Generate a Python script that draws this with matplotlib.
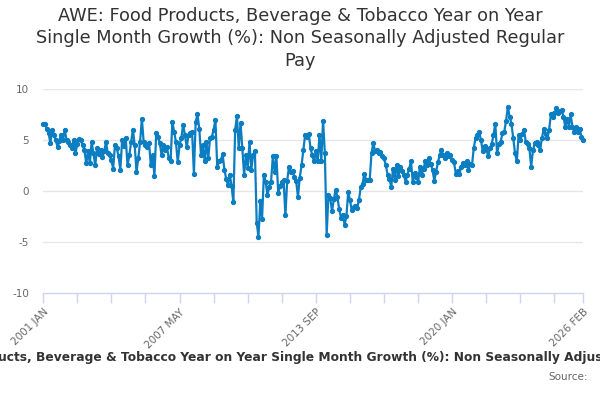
import matplotlib
matplotlib.use('Agg')
import matplotlib.pyplot as plt

# monthly values, 2001 JAN .. 2026 FEB
growth = [
    6.6, 6.6, 6.1, 5.7, 4.7, 6.0, 5.5, 5.0, 4.3, 4.9, 5.5, 5.0,      # 2001
    6.0, 5.0, 4.8, 4.5, 4.2, 5.0, 3.7, 4.6, 5.1, 5.0, 4.5, 4.0,      # 2002
    2.7, 3.9, 2.7, 4.8, 3.7, 2.5, 4.2, 3.6, 4.0, 3.3, 3.9, 4.8,      # 2003
    3.7, 3.5, 3.0, 2.2, 4.5, 4.2, 3.4, 2.1, 5.0, 4.4, 5.2, 2.5,      # 2004
    3.5, 4.8, 6.0, 4.5, 1.9, 3.2, 4.8, 7.1, 4.8, 4.5, 4.3, 4.7,      # 2005
    2.5, 3.5, 1.5, 5.7, 5.3, 4.7, 3.5, 4.5, 4.0, 4.3, 3.2, 2.9,      # 2006
    6.8, 5.8, 4.8, 2.8, 4.5, 5.2, 6.5, 5.5, 4.3, 5.5, 5.7, 5.8,      # 2007
    1.7, 6.8, 7.5, 6.1, 3.5, 4.5, 2.9, 4.8, 3.2, 5.2, 5.3, 6.0,      # 2008
    7.0, 2.4, 2.9, 3.0, 3.6, 2.1, 1.2, 0.6, 1.6, 0.5, -1.1, 6.0,     # 2009
    7.4, 4.2, 6.7, 4.2, 1.6, 3.5, 2.3, 4.8, 2.1, 3.5, 3.9, -3.1,     # 2010
    -4.5, -1.0, -2.7, 1.6, 0.9, -0.4, 0.4, 0.9, 3.4, 1.9, 3.4, -0.2,  # 2011
    0.5, 0.9, 1.1, -2.4, 1.0, 2.4, 1.9, 2.0, 1.4, 1.0, -0.6, 1.3,    # 2012
    2.5, 4.0, 5.5, 5.3, 5.6, 4.2, 3.5, 2.9, 3.9, 2.9, 5.5, 2.9,      # 2013
    6.9, 3.7, -4.3, -0.4, -0.7, -2.0, -0.8, 0.1, -0.6, -1.8, -2.6, -2.4,  # 2014
    -3.3, -2.5, -0.1, -0.9, -1.9, -1.6, -1.5, -1.7, -0.9, 0.4, 0.7, 1.7,  # 2015
    1.1, 1.1, 1.1, 3.7, 4.7, 3.9, 4.0, 3.7, 3.8, 3.4, 3.2, 2.5,      # 2016
    1.6, 1.2, 0.4, 2.2, 1.1, 2.5, 1.5, 2.4, 2.0, 1.6, 0.9, 1.6,      # 2017
    2.2, 2.9, 0.9, 1.8, 1.4, 0.9, 2.4, 1.6, 2.2, 2.9, 2.5, 3.2,      # 2018
    2.6, 2.1, 1.0, 1.9, 2.8, 3.5, 4.0, 3.5, 3.2, 3.7, 3.4, 3.5,      # 2019
    3.0, 2.8, 1.7, 2.0, 1.7, 2.4, 2.7, 2.5, 2.9, 2.1, 2.6, 2.5,      # 2020
    4.2, 5.2, 5.5, 5.8, 5.0, 3.9, 4.4, 4.2, 3.4, 4.2, 4.6, 5.5,      # 2021
    6.6, 3.7, 4.6, 4.8, 5.7, 5.8, 6.9, 8.2, 7.3, 6.6, 5.2, 3.7,      # 2022
    2.9, 5.5, 5.0, 5.6, 6.0, 4.8, 4.6, 4.2, 2.4, 4.0, 4.7, 4.8,      # 2023
    4.5, 4.0, 5.2, 6.1, 5.6, 5.2, 6.0, 7.5, 7.3, 7.6, 8.1, 7.6,      # 2024
    7.8, 7.9, 7.3, 6.3, 7.1, 6.3, 7.5, 6.3, 5.8, 6.3, 5.8, 6.1,      # 2025
    5.3, 5.0,                                                        # 2026
]
months = list(range(len(growth)))

tick_pos = [0, 19, 38, 57, 76, 95, 114, 133, 152, 171, 190, 209, 228, 247, 266, 285, 301]
label_pos = [0, 76, 152, 228, 301]
label_txt = ['2001 JAN', '2007 MAY', '2013 SEP', '2020 JAN', '2026 FEB']
y_ticks = [-10, -5, 0, 5, 10]

title = ('AWE: Food Products, Beverage & Tobacco Year on Year\n'
         'Single Month Growth (%): Non Seasonally Adjusted Regular\nPay')
caption = ('AWE: Food Products, Beverage & Tobacco Year on Year Single Month '
           'Growth (%): Non Seasonally Adjusted Regular Pay')

fig = plt.figure(figsize=(6, 4), dpi=100)
ax = fig.add_axes([0.072, 0.2675, 0.9, 0.51])

ax.plot(months, growth, color='#0b7dc1', lw=1.6, marker='o', ms=2.8,
        clip_on=False, zorder=3)

ax.set_xlim(0, 301)
ax.set_ylim(-10, 10)
ax.set_yticks(y_ticks)
ax.set_yticklabels([str(v) for v in y_ticks])
for v in y_ticks[1:]:
    ax.axhline(v, color='#e6e6e6', lw=1, zorder=1)

# x axis: small tick marks, labels only on a few
ax.set_xticks(tick_pos, minor=True)
ax.set_xticks(label_pos)
ax.set_xticklabels(label_txt, rotation=45, ha='right', rotation_mode='anchor')
ax.tick_params(axis='x', which='both', length=7, width=1, color='#ccd6eb',
               labelsize=7.5, labelcolor='#666666', pad=3)
ax.tick_params(axis='y', length=0, labelsize=7.5, labelcolor='#666666', pad=10)

for s in ['top', 'right', 'left']:
    ax.spines[s].set_visible(False)
ax.spines['bottom'].set_color('#ccd6eb')
ax.spines['bottom'].set_linewidth(1)

fig.text(0.5, 0.982, title, ha='center', va='top', fontsize=12.8,
         color='#333333', linespacing=1.3)
fig.text(0.5, 0.105, caption, ha='center', va='center', fontsize=8.8,
         fontweight='bold', color='#333333')
fig.text(0.98, 0.057, 'Source:', ha='right', va='center', fontsize=7.5,
         color='#666666')

fig.savefig('out.png', dpi=100)
